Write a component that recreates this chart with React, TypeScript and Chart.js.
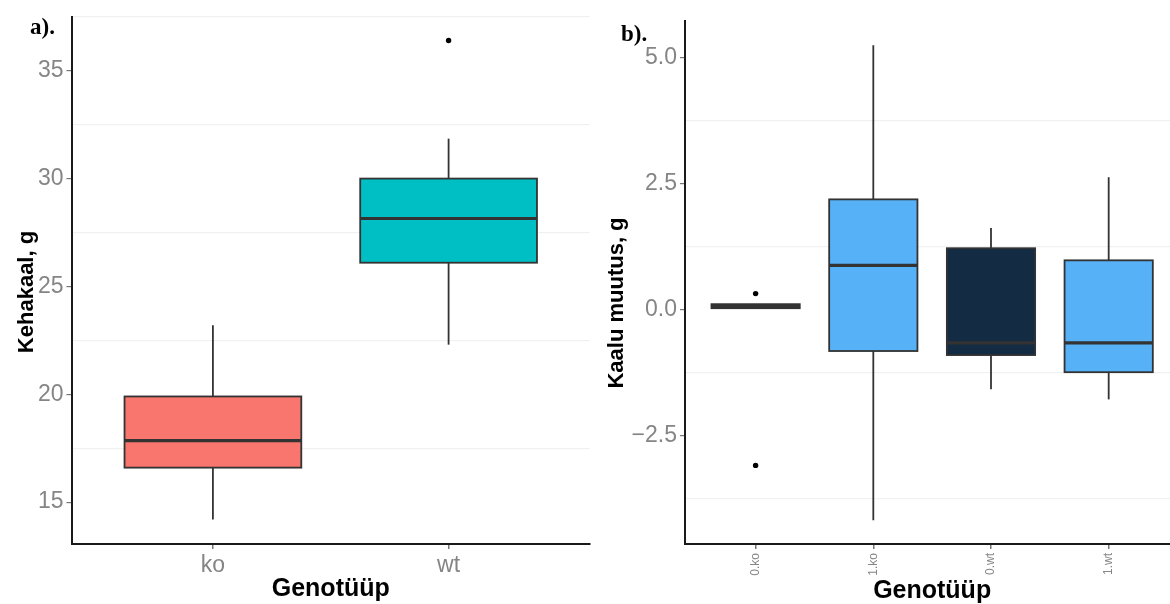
import React, { useEffect, useRef } from 'react';
import { Chart, registerables } from 'chart.js';

Chart.register(...registerables);

// ---- Panel a) data ----
const leftCategories = ['ko', 'wt'];
const leftMin = [14.2, 22.3];
const leftQ1 = [16.6, 26.1];
const leftMedian = [17.85, 28.15];
const leftQ3 = [19.9, 30.0];
const leftMax = [23.2, 31.85];
const leftOutliers = [[], [36.4]];
const leftFills = ['#F8766D', '#00BFC4'];
const leftYTicks = [15, 20, 25, 30, 35];
const leftYMinor = [17.5, 22.5, 27.5, 32.5, 37.5];

// ---- Panel b) data ----
const rightCategories = ['0.ko', '1.ko', '0.wt', '1.wt'];
const rightMin = [0.02, -4.19, -1.59, -1.79];
const rightQ1 = [0.02, -0.83, -0.91, -1.25];
const rightMedian = [0.06, 0.87, -0.67, -0.67];
const rightQ3 = [0.1, 2.18, 1.21, 0.97];
const rightMax = [0.1, 5.24, 1.61, 2.62];
const rightOutliers = [[0.31, -3.1], [], [], []];
const rightFills = ['#132B43', '#56B1F7', '#132B43', '#56B1F7'];
const rightYTicks = [-2.5, 0, 2.5, 5];
const rightYMinor = [-3.75, -1.25, 1.25, 3.75];

const FONT = "'Liberation Sans', Arial, Helvetica, sans-serif";
const TICK_GREY = '#858585';
const GRID_MINOR = '#f1f1f1';

function makeBoxPlugin(
  id: string,
  cats: string[],
  mins: number[],
  q1s: number[],
  meds: number[],
  q3s: number[],
  maxs: number[],
  fills: string[]
) {
  return {
    id,
    beforeDatasetsDraw(chart: any) {
      const { ctx, scales } = chart;
      const x = scales.x;
      const y = scales.y;
      ctx.save();
      cats.forEach((_c, i) => {
        const pos = i + 1;
        const cx = x.getPixelForValue(pos);
        const xl = x.getPixelForValue(pos - 0.375);
        const xr = x.getPixelForValue(pos + 0.375);
        ctx.strokeStyle = '#333333';
        ctx.lineWidth = 1.8;
        ctx.beginPath();
        ctx.moveTo(cx, y.getPixelForValue(maxs[i]));
        ctx.lineTo(cx, y.getPixelForValue(mins[i]));
        ctx.stroke();
        const yt = y.getPixelForValue(q3s[i]);
        const yb = y.getPixelForValue(q1s[i]);
        ctx.fillStyle = fills[i];
        ctx.fillRect(xl, yt, xr - xl, yb - yt);
        ctx.lineWidth = 1.8;
        ctx.strokeRect(xl, yt, xr - xl, yb - yt);
        const ym = y.getPixelForValue(meds[i]);
        ctx.lineWidth = 3.2;
        ctx.beginPath();
        ctx.moveTo(xl, ym);
        ctx.lineTo(xr, ym);
        ctx.stroke();
      });
      ctx.restore();
    },
  };
}

// Vertical axis title, drawn next to the y scale (shifted like ggplot's layout)
function makeYTitlePlugin(id: string, text: string, x: number, yCenter: number) {
  return {
    id,
    afterDraw(chart: any) {
      const { ctx } = chart;
      ctx.save();
      ctx.translate(x, yCenter);
      ctx.rotate(-Math.PI / 2);
      ctx.textAlign = 'center';
      ctx.textBaseline = 'middle';
      ctx.fillStyle = '#000000';
      ctx.font = `bold 22px ${FONT}`;
      ctx.fillText(text, 0, 0);
      ctx.restore();
    },
  };
}

function outlierPoints(outs: number[][]) {
  const pts: { x: number; y: number }[] = [];
  outs.forEach((arr, i) => arr.forEach((v) => pts.push({ x: i + 1, y: v })));
  return pts;
}

function makeConfig(opts: {
  cats: string[];
  mins: number[];
  q1s: number[];
  meds: number[];
  q3s: number[];
  maxs: number[];
  outs: number[][];
  fills: string[];
  yTicks: number[];
  yMinor: number[];
  yMin: number;
  yMax: number;
  xMax: number;
  yTitle: string;
  yTitleX: number;
  yTitleY: number;
  yAxisWidth: number;
  padTop: number;
  padRight: number;
  rotated: boolean;
  fmt: (v: number) => string;
  id: string;
}) {
  const allY = [...opts.yTicks, ...opts.yMinor].sort((a, b) => a - b);
  const isMinor = (v: number) => opts.yMinor.some((m) => Math.abs(m - v) < 1e-6);
  return {
    type: 'scatter' as const,
    data: {
      datasets: [
        {
          data: outlierPoints(opts.outs),
          pointRadius: 2.7,
          pointBackgroundColor: '#000000',
          pointBorderWidth: 0,
          pointHoverRadius: 2.7,
        },
      ],
    },
    options: {
      responsive: false,
      animation: false as const,
      devicePixelRatio: 1,
      events: [],
      layout: { padding: { top: opts.padTop, right: opts.padRight, left: 0, bottom: 0 } },
      plugins: { legend: { display: false }, tooltip: { enabled: false } },
      scales: {
        x: {
          type: 'linear' as const,
          min: 0.4,
          max: opts.xMax,
          afterBuildTicks: (s: any) => {
            s.ticks = opts.cats.map((_c, i) => ({ value: i + 1 }));
          },
          afterFit: (s: any) => {
            s.height = 60;
          },
          ticks: {
            autoSkip: false,
            callback: (v: any) => opts.cats[Math.round(v) - 1] ?? '',
            color: TICK_GREY,
            font: { family: FONT, size: opts.rotated ? 12 : 23 },
            padding: opts.rotated ? 4 : 3,
            maxRotation: opts.rotated ? 90 : 0,
            minRotation: opts.rotated ? 90 : 0,
          },
          grid: {
            color: 'rgba(0,0,0,0)',
            tickColor: '#777777',
            tickLength: 5,
            lineWidth: 1.5,
          },
          border: { display: true, color: '#1a1a1a', width: 2 },
          title: {
            display: true,
            text: 'Genotüüp',
            color: '#000000',
            font: { family: FONT, size: 25, weight: 'bold' as const },
            padding: { top: 0, bottom: opts.rotated ? -2 : 0 },
          },
        },
        y: {
          type: 'linear' as const,
          min: opts.yMin,
          max: opts.yMax,
          afterBuildTicks: (s: any) => {
            s.ticks = allY.map((v) => ({ value: v }));
          },
          afterFit: (s: any) => {
            s.width = opts.yAxisWidth;
          },
          ticks: {
            autoSkip: false,
            callback: (v: any) => (isMinor(v) ? '' : opts.fmt(v)),
            color: TICK_GREY,
            font: { family: FONT, size: 23 },
            padding: 3,
          },
          grid: {
            color: (c: any) => (c.tick && isMinor(c.tick.value) ? GRID_MINOR : 'rgba(0,0,0,0)'),
            tickColor: (c: any) => (c.tick && isMinor(c.tick.value) ? 'rgba(0,0,0,0)' : '#777777'),
            tickLength: 5,
            lineWidth: 1.2,
          },
          border: { display: true, color: '#1a1a1a', width: 2 },
          title: { display: false },
        },
      },
    },
    plugins: [
      makeBoxPlugin(opts.id, opts.cats, opts.mins, opts.q1s, opts.meds, opts.q3s, opts.maxs, opts.fills),
      makeYTitlePlugin(opts.id + 'Title', opts.yTitle, opts.yTitleX, opts.yTitleY),
    ],
  };
}

export default function App() {
  const leftRef = useRef<HTMLCanvasElement | null>(null);
  const rightRef = useRef<HTMLCanvasElement | null>(null);

  useEffect(() => {
    const left = new Chart(
      leftRef.current as HTMLCanvasElement,
      makeConfig({
        cats: leftCategories,
        mins: leftMin,
        q1s: leftQ1,
        meds: leftMedian,
        q3s: leftQ3,
        maxs: leftMax,
        outs: leftOutliers,
        fills: leftFills,
        yTicks: leftYTicks,
        yMinor: leftYMinor,
        yMin: 13.06,
        yMax: 37.5,
        xMax: 2.6,
        yTitle: 'Kehakaal, g',
        yTitleX: 27,
        yTitleY: 292,
        yAxisWidth: 71.5,
        padTop: 16,
        padRight: 10,
        rotated: false,
        fmt: (v) => String(v),
        id: 'boxLeft',
      }) as any
    );
    const right = new Chart(
      rightRef.current as HTMLCanvasElement,
      makeConfig({
        cats: rightCategories,
        mins: rightMin,
        q1s: rightQ1,
        meds: rightMedian,
        q3s: rightQ3,
        maxs: rightMax,
        outs: rightOutliers,
        fills: rightFills,
        yTicks: rightYTicks,
        yMinor: rightYMinor,
        yMin: -4.66,
        yMax: 5.72,
        xMax: 4.6,
        yTitle: 'Kaalu muutus, g',
        yTitleX: 17,
        yTitleY: 303,
        yAxisWidth: 85,
        padTop: 21,
        padRight: 0,
        rotated: true,
        fmt: (v) => (v < 0 ? '\u2212' + Math.abs(v).toFixed(1) : v.toFixed(1)),
        id: 'boxRight',
      }) as any
    );
    return () => {
      left.destroy();
      right.destroy();
    };
  }, []);

  const labelStyle: React.CSSProperties = {
    position: 'absolute',
    fontFamily: "'Liberation Serif', 'Times New Roman', serif",
    fontWeight: 'bold',
    fontSize: 23,
    lineHeight: '23px',
    color: '#000',
    whiteSpace: 'nowrap',
  };

  return (
    <div
      style={{
        position: 'absolute',
        left: 0,
        top: 0,
        width: 1170,
        height: 604,
        overflow: 'hidden',
        background: '#ffffff',
      }}
    >
      <canvas
        ref={leftRef}
        width={600}
        height={604}
        style={{ position: 'absolute', left: 0, top: 0, width: 600, height: 604 }}
      />
      <canvas
        ref={rightRef}
        width={582}
        height={604}
        style={{ position: 'absolute', left: 600, top: 0, width: 582, height: 604 }}
      />
      <div style={{ ...labelStyle, left: 30, top: 15 }}>a).</div>
      <div style={{ ...labelStyle, left: 621, top: 22 }}>b).</div>
    </div>
  );
}
